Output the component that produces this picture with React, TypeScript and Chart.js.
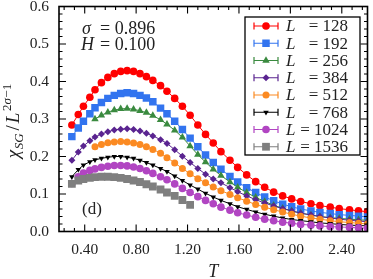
import React, { useEffect, useRef } from "react";
import { Chart, registerables } from "chart.js";

Chart.register(...registerables);

const FONT = "'Liberation Serif', 'Times New Roman', serif";
const TEXT = "#222";

// Temperatures (x)
const tValues = [
  0.30, 0.35, 0.39, 0.44, 0.48, 0.53, 0.58, 0.63, 0.68, 0.73,
  0.78, 0.83, 0.88, 0.93, 0.99, 1.04, 1.10, 1.16, 1.22, 1.28,
  1.34, 1.40, 1.46, 1.53, 1.59, 1.66, 1.73, 1.80, 1.87, 1.94,
  2.01, 2.08, 2.16, 2.23, 2.31, 2.38, 2.46, 2.53, 2.60,
];

const sizes = [128, 192, 256, 384, 512, 768, 1024, 1536];

const chiL128 = [
  0.284, 0.312, 0.334, 0.358, 0.378, 0.397, 0.411, 0.421, 0.427, 0.429,
  0.427, 0.421, 0.413, 0.403, 0.389, 0.374, 0.355, 0.334, 0.310, 0.284,
  0.259, 0.236, 0.213, 0.190, 0.171, 0.151, 0.133, 0.118, 0.105, 0.095,
  0.087, 0.080, 0.074, 0.069, 0.065, 0.061, 0.058, 0.055, 0.053,
];
const chiL192 = [
  0.253, 0.276, 0.294, 0.314, 0.330, 0.344, 0.355, 0.363, 0.368, 0.370,
  0.368, 0.363, 0.356, 0.346, 0.329, 0.314, 0.294, 0.272, 0.249, 0.226,
  0.204, 0.184, 0.166, 0.147, 0.132, 0.117, 0.104, 0.092, 0.082, 0.073,
  0.066, 0.060, 0.055, 0.051, 0.048, 0.045, 0.043, 0.041, 0.039,
];
const chiL256 = [
  null, null, null, null, 0.300, 0.310, 0.318, 0.324, 0.327, 0.328,
  0.326, 0.322, 0.317, 0.309, 0.298, 0.286, 0.270, 0.251, 0.228, 0.205,
  0.185, 0.166, 0.149, 0.132, 0.118, 0.104, 0.091, 0.080, 0.070, 0.062,
  0.055, 0.049, 0.044, 0.040, 0.037, 0.035, 0.033, 0.031, 0.030,
];
const chiL384 = [
  0.190, 0.212, 0.228, 0.242, 0.252, 0.260, 0.266, 0.271, 0.273, 0.274,
  0.272, 0.268, 0.262, 0.255, 0.245, 0.235, 0.218, 0.201, 0.184, 0.168,
  0.153, 0.140, 0.130, 0.117, 0.106, 0.095, 0.085, 0.076, 0.068, 0.061,
  0.055, 0.049, 0.044, 0.040, 0.036, 0.033, 0.030, 0.028, 0.026,
];
const chiL512 = [
  null, null, null, null, 0.226, 0.232, 0.237, 0.239, 0.240, 0.239,
  0.236, 0.232, 0.226, 0.219, 0.209, 0.197, 0.183, 0.168, 0.154, 0.141,
  0.130, 0.119, 0.109, 0.099, 0.090, 0.081, 0.072, 0.065, 0.058, 0.052,
  0.046, 0.041, 0.036, 0.033, 0.029, 0.026, 0.024, 0.022, 0.020,
];
const chiL768 = [
  0.146, 0.165, 0.177, 0.186, 0.191, 0.195, 0.198, 0.200, 0.200, 0.198,
  0.195, 0.190, 0.184, 0.177, 0.168, 0.160, 0.148, 0.136, 0.124, 0.113,
  0.102, 0.092, 0.083, 0.074, 0.066, 0.059, 0.052, 0.046, 0.041, 0.036,
  0.032, 0.029, 0.026, 0.023, 0.021, 0.019, 0.017, 0.016, 0.015,
];
const chiL1024 = [
  0.128, 0.146, 0.156, 0.163, 0.167, 0.171, 0.174, 0.176, 0.176, 0.175,
  0.172, 0.168, 0.162, 0.155, 0.146, 0.138, 0.127, 0.115, 0.104, 0.093,
  0.083, 0.074, 0.065, 0.057, 0.050, 0.044, 0.038, 0.033, 0.029, 0.025,
  0.022, 0.019, 0.017, 0.015, 0.013, 0.012, 0.011, 0.010, 0.009,
];
const chiL1536 = [
  0.127, 0.136, 0.140, 0.143, 0.145, 0.146, 0.146, 0.145, 0.143, 0.140,
  0.136, 0.132, 0.126, 0.120, 0.112, 0.104, 0.095, 0.084, 0.071, null,
  null, null, null, null, null, null, null, null, null, null,
  null, null, null, null, null, null, null, null, null,
];

const seriesValues = [chiL128, chiL192, chiL256, chiL384, chiL512, chiL768, chiL1024, chiL1536];

const xTickValues = [0.4, 0.8, 1.2, 1.6, 2.0, 2.4];
const yTickValues = [0.0, 0.1, 0.2, 0.3, 0.4, 0.5, 0.6];

const sigmaText = "0.896";
const fieldText = "0.100";
const panelText = "(d)";

// styles
const seriesColors = ["#ff0000", "#3274ef", "#3a8a3f", "#5a2490", "#fb8a22", "#000000", "#b145c2", "#7f7f7f"];
const seriesMarkers = [
  { style: "circle", r: 3.8, rot: 0 },
  { style: "rect", r: 5.3, rot: 0 },
  { style: "triangle", r: 4.3, rot: 0 },
  { style: "rectRot", r: 3.5, rot: 0 },
  { style: "circle", r: 3.5, rot: 0 },
  { style: "triangle", r: 3.2, rot: 180 },
  { style: "circle", r: 3.8, rot: 0 },
  { style: "rect", r: 5.5, rot: 0 },
];

function drawMarker(ctx: CanvasRenderingContext2D, style: string, x: number, y: number, r: number, rot: number) {
  ctx.beginPath();
  if (style === "circle") {
    ctx.arc(x, y, r, 0, Math.PI * 2);
  } else if (style === "rect") {
    const s = r * Math.SQRT1_2;
    ctx.rect(x - s, y - s, 2 * s, 2 * s);
  } else if (style === "rectRot") {
    ctx.moveTo(x, y - r);
    ctx.lineTo(x + r, y);
    ctx.lineTo(x, y + r);
    ctx.lineTo(x - r, y);
    ctx.closePath();
  } else if (style === "triangle") {
    const a = (rot * Math.PI) / 180;
    for (let k = 0; k < 3; k++) {
      const ang = a + (k * 2 * Math.PI) / 3;
      const px = x + Math.sin(ang) * r;
      const py = y - Math.cos(ang) * r;
      if (k === 0) ctx.moveTo(px, py);
      else ctx.lineTo(px, py);
    }
    ctx.closePath();
  }
  ctx.fill();
}

const decorPlugin = {
  id: "decor",
  afterDatasetsDraw(chart: any) {
    const { ctx, chartArea: a, scales } = chart;
    const x = scales.x;
    const y = scales.y;
    ctx.save();
    ctx.strokeStyle = "#000";
    ctx.lineWidth = 1.1;
    const major = 7;
    const minor = 3.5;
    ctx.beginPath();
    for (let k = 0; k < 40; k++) {
      const v = 0.24 + k * 0.08;
      if (v > 2.6 + 1e-9) break;
      const q = v / 0.4;
      const isMajor = Math.abs(q - Math.round(q)) < 1e-6;
      const len = isMajor ? major : minor;
      const px = x.getPixelForValue(v);
      ctx.moveTo(px, a.bottom);
      ctx.lineTo(px, a.bottom - len);
      ctx.moveTo(px, a.top);
      ctx.lineTo(px, a.top + len);
    }
    for (let k = 0; k <= 30; k++) {
      const v = k * 0.02;
      const len = k % 5 === 0 ? major : minor;
      const py = y.getPixelForValue(v);
      ctx.moveTo(a.left, py);
      ctx.lineTo(a.left + len, py);
      ctx.moveTo(a.right, py);
      ctx.lineTo(a.right - len, py);
    }
    ctx.stroke();
    ctx.lineWidth = 1.6;
    ctx.strokeRect(a.left, a.top, a.right - a.left, a.bottom - a.top);
    ctx.restore();
  },
  afterDraw(chart: any) {
    const { ctx } = chart;
    ctx.save();
    ctx.fillStyle = TEXT;
    ctx.textBaseline = "alphabetic";

    // annotations
    ctx.textAlign = "left";
    ctx.font = `italic 18px ${FONT}`;
    ctx.fillText("σ", 82, 33.5);
    ctx.fillText("H", 81, 50);
    ctx.font = `18px ${FONT}`;
    ctx.fillText("= " + sigmaText, 100, 33.5);
    ctx.fillText("= " + fieldText, 100, 50);
    ctx.font = `17px ${FONT}`;
    ctx.fillText(panelText, 82, 214);

    // legend
    const bx = 245, by = 17, bw = 115, bh = 138;
    ctx.fillStyle = "#fff";
    ctx.fillRect(bx, by, bw, bh);
    ctx.strokeStyle = "#000";
    ctx.lineWidth = 1.3;
    ctx.strokeRect(bx, by, bw, bh);
    chart.data.datasets.forEach((ds: any, i: number) => {
      const ry = 26 + i * 17.25;
      const c = seriesColors[i];
      ctx.strokeStyle = c;
      ctx.fillStyle = c;
      ctx.lineWidth = 1.2;
      ctx.beginPath();
      ctx.moveTo(254, ry);
      ctx.lineTo(278, ry);
      ctx.moveTo(254, ry - 3.5);
      ctx.lineTo(254, ry + 3.5);
      ctx.moveTo(278, ry - 3.5);
      ctx.lineTo(278, ry + 3.5);
      ctx.stroke();
      const m = seriesMarkers[i];
      drawMarker(ctx, m.style, 266, ry, m.r, m.rot);
      ctx.fillStyle = TEXT;
      ctx.textBaseline = "middle";
      ctx.textAlign = "left";
      ctx.font = `italic 17px ${FONT}`;
      ctx.fillText("L", 286, ry + 1);
      ctx.textAlign = "right";
      ctx.font = `17px ${FONT}`;
      ctx.fillText("= " + sizes[i], 348, ry + 1);
    });

    // y-axis title with sub/superscripts (rotated, reading upwards)
    ctx.save();
    ctx.translate(19, 121);
    ctx.rotate(-Math.PI / 2);
    ctx.textAlign = "left";
    ctx.textBaseline = "alphabetic";
    ctx.fillStyle = TEXT;
    const parts = [
      { t: "χ", f: `italic 19px ${FONT}`, dy: 0, gap: 0.5 },
      { t: "SG", f: `italic 13px ${FONT}`, dy: 3.5, gap: 3 },
      { t: "/", f: `19px ${FONT}`, dy: 0, gap: 2 },
      { t: "L", f: `italic 19px ${FONT}`, dy: 0, gap: 1.5 },
      { t: "2", f: `13px ${FONT}`, dy: -8, gap: 0 },
      { t: "σ", f: `italic 13px ${FONT}`, dy: -8, gap: 0.5 },
      { t: "−1", f: `13px ${FONT}`, dy: -8, gap: 0 },
    ];
    let total = 0;
    const widths = parts.map((p) => {
      ctx.font = p.f;
      const w = ctx.measureText(p.t).width + p.gap;
      total += w;
      return w;
    });
    let cx = -total / 2;
    parts.forEach((p, i) => {
      ctx.font = p.f;
      ctx.fillText(p.t, cx, p.dy);
      cx += widths[i];
    });
    ctx.restore();
    ctx.restore();
  },
};

export default function App() {
  const ref = useRef<HTMLCanvasElement | null>(null);
  useEffect(() => {
    if (!ref.current) return;
    const datasets = seriesValues.map((vals, i) => {
      const pts: { x: number; y: number }[] = [];
      vals.forEach((v, k) => {
        if (v !== null) pts.push({ x: tValues[k], y: v as number });
      });
      const m = seriesMarkers[i];
      return {
        label: "L = " + sizes[i],
        data: pts,
        borderColor: seriesColors[i],
        backgroundColor: seriesColors[i],
        pointBackgroundColor: seriesColors[i],
        pointBorderWidth: 0,
        pointStyle: m.style,
        pointRadius: m.r,
        pointRotation: m.rot,
        borderWidth: 1,
        tension: 0,
        clip: 0,
        order: 8 - i,
      };
    });
    const chart = new Chart(ref.current, {
      type: "line",
      data: { datasets },
      options: {
        animation: false,
        responsive: true,
        maintainAspectRatio: false,
        layout: { padding: { left: 0, top: 6.5, right: 2.5, bottom: 0 } },
        plugins: { legend: { display: false }, tooltip: { enabled: false } },
        scales: {
          x: {
            type: "linear",
            min: 0.2,
            max: 2.6,
            grid: { display: false, drawTicks: false, tickLength: 0 },
            border: { display: false },
            afterBuildTicks: (s: any) => {
              s.ticks = xTickValues.map((v) => ({ value: v }));
            },
            afterFit: (s: any) => {
              s.height = 47.5;
              s.paddingLeft = 0;
              s.paddingRight = 0;
            },
            ticks: {
              callback: (v: any) => Number(v).toFixed(2),
              font: { family: FONT, size: 15.5 },
              color: TEXT,
              padding: 9,
              maxRotation: 0,
              autoSkip: false,
            },
            title: {
              display: true,
              text: "T",
              color: TEXT,
              font: { family: FONT, size: 18, style: "italic", lineHeight: 0.8 },
              padding: { top: 0, bottom: 0 },
            },
          },
          y: {
            type: "linear",
            min: 0,
            max: 0.6,
            grid: { display: false, drawTicks: false, tickLength: 0 },
            border: { display: false },
            afterBuildTicks: (s: any) => {
              s.ticks = yTickValues.map((v) => ({ value: v }));
            },
            afterFit: (s: any) => {
              s.width = 59;
              s.paddingTop = 0;
              s.paddingBottom = 0;
            },
            ticks: {
              callback: (v: any) => Number(v).toFixed(1),
              font: { family: FONT, size: 15.5 },
              color: TEXT,
              padding: 10,
              autoSkip: false,
            },
          },
        },
      },
      plugins: [decorPlugin],
    } as any);
    return () => chart.destroy();
  }, []);
  return (
    <div style={{ position: "fixed", left: 0, top: 0, width: 373, height: 279, background: "#fff" }}>
      <canvas ref={ref} />
    </div>
  );
}
